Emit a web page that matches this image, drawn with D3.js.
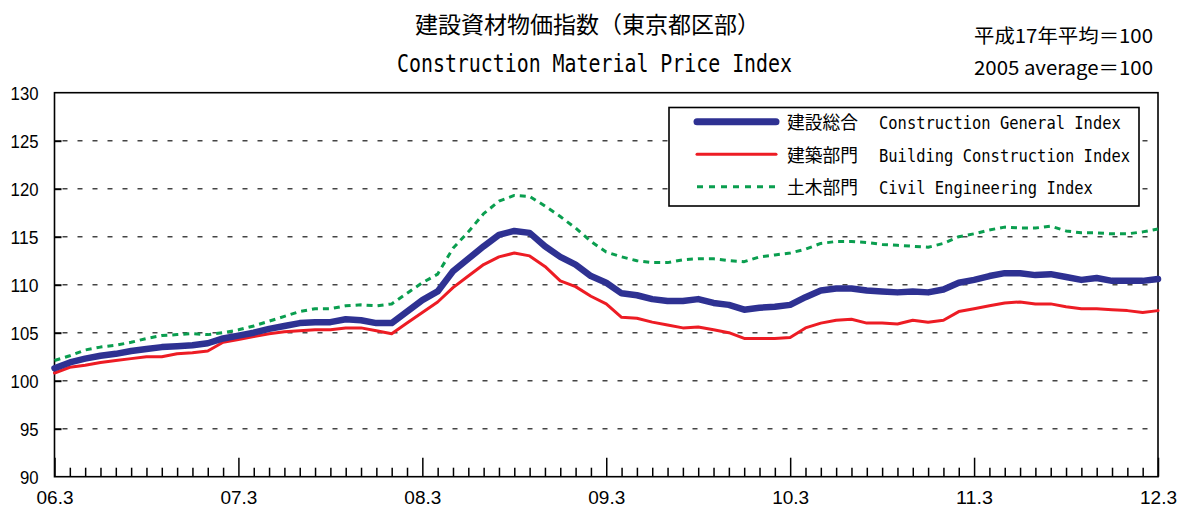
<!DOCTYPE html>
<html>
<head>
<meta charset="utf-8">
<script src="https://cdn.jsdelivr.net/npm/d3@7"></script>
<style>
  html, body { margin: 0; padding: 0; background: #fff; }
  svg { display: block; }
</style>
</head>
<body>
<svg id="chart" width="1179" height="510"></svg>
<script>
// ---- Data (Mar 2006 – Mar 2012, monthly) ----
const startMonth = "2006-03";
const monthCount = 73;
const xTickLabels = ["06.3", "07.3", "08.3", "09.3", "10.3", "11.3", "12.3"];
const yTicks = [90, 95, 100, 105, 110, 115, 120, 125, 130];

const generalIndex = [
  101.3, 101.9, 102.3, 102.6, 102.8, 103.1, 103.3, 103.5, 103.6, 103.7, 103.9, 104.4,
  104.7, 105.0, 105.4, 105.7, 106.0, 106.1, 106.1, 106.4, 106.3, 106.0, 106.0, 107.2,
  108.4, 109.3, 111.4, 112.7, 114.0, 115.2, 115.6, 115.4, 114.0, 112.9, 112.1, 110.9,
  110.2, 109.1, 108.9, 108.5, 108.3, 108.3, 108.5, 108.1, 107.9, 107.4, 107.6, 107.7,
  107.9, 108.7, 109.4, 109.6, 109.6, 109.4, 109.3, 109.2, 109.3, 109.2, 109.5, 110.2,
  110.5, 110.9, 111.2, 111.2, 111.0, 111.1, 110.8, 110.5, 110.7, 110.4, 110.4, 110.4,
  110.6
];
const buildingIndex = [
  100.8, 101.4, 101.6, 101.9, 102.1, 102.3, 102.5, 102.5, 102.8, 102.9, 103.1, 104.0,
  104.3, 104.6, 104.9, 105.1, 105.2, 105.3, 105.3, 105.5, 105.5, 105.2, 104.9, 106.0,
  107.1, 108.2, 109.7, 110.9, 112.1, 112.9, 113.3, 113.0, 111.9, 110.4, 109.8, 108.8,
  108.0, 106.6, 106.5, 106.1, 105.8, 105.5, 105.6, 105.3, 105.0, 104.4, 104.4, 104.4,
  104.5, 105.5, 106.0, 106.3, 106.4, 106.0, 106.0, 105.9, 106.3, 106.1, 106.3, 107.2,
  107.5, 107.8, 108.1, 108.2, 108.0, 108.0, 107.7, 107.5, 107.5, 107.4, 107.3, 107.1,
  107.3
];
const civilIndex = [
  102.1, 102.6, 103.2, 103.5, 103.7, 104.0, 104.4, 104.7, 104.8, 104.9, 104.8, 105.0,
  105.3, 105.7, 106.2, 106.7, 107.2, 107.5, 107.5, 107.8, 107.9, 107.8, 108.0, 109.1,
  110.2, 111.1, 113.8, 115.5, 117.4, 118.7, 119.3, 119.2, 118.2, 117.1, 115.9, 114.5,
  113.4, 112.9, 112.5, 112.3, 112.3, 112.6, 112.7, 112.7, 112.5, 112.4, 112.9, 113.1,
  113.3, 113.7, 114.3, 114.5, 114.5, 114.4, 114.2, 114.1, 114.0, 113.9, 114.3, 115.0,
  115.3, 115.7, 116.0, 115.9, 115.9, 116.1, 115.6, 115.4, 115.4, 115.3, 115.3, 115.5,
  115.8
];

const seriesNames = ["建設総合", "建築部門", "土木部門"];
const seriesNamesEn = ["Construction General Index", "Building Construction Index", "Civil Engineering Index"];

const titleJa = "建設資材物価指数（東京都区部）";
const titleEn = "Construction Material Price Index";
const noteJa = "平成17年平均＝100";
const noteEn = "2005 average＝100";

// ---- Setup ----
const W = 1179, H = 510;
const plot = { left: 54.5, right: 1158, top: 92.7, bottom: 476.7 };
const svg = d3.select("#chart");

const parse = d3.timeParse("%Y-%m");
const months = d3.range(monthCount).map(i => d3.timeMonth.offset(parse(startMonth), i));

const x = d3.scaleLinear().domain([0, monthCount - 1]).range([plot.left, plot.right]);
const y = d3.scaleLinear().domain([90, 130]).range([plot.bottom, plot.top]);

const monoFont = "'DejaVu Sans Mono', 'Liberation Mono', monospace";
const cjkFont = "'Noto Sans CJK JP', 'Noto Sans', sans-serif";
const numFont = "'Liberation Sans', Arial, sans-serif";

// gridlines (dashed)
svg.append("g").selectAll("line")
  .data(yTicks.filter(v => v > 90 && v < 130))
  .join("line")
  .attr("x1", plot.left + 8).attr("x2", plot.right - 2)
  .attr("y1", d => y(d)).attr("y2", d => y(d))
  .attr("stroke", "#444").attr("stroke-width", 1.4)
  .attr("stroke-dasharray", "5,10");

// left axis
const yAxis = d3.axisLeft(y).tickValues(yTicks).tickSize(-7).tickPadding(16);
const gy = svg.append("g").attr("transform", `translate(${plot.left},0)`).call(yAxis);
gy.select(".domain").remove();
gy.selectAll(".tick line").attr("stroke", "#000").attr("stroke-width", 2)
  .filter(d => d === 90 || d === 130).remove();
gy.selectAll(".tick text")
  .attr("font-family", numFont).attr("font-size", 19).attr("fill", "#000")
  .attr("dy", "0.36em")
  .attr("textLength", d => String(d).length * 9.3)
  .attr("lengthAdjust", "spacingAndGlyphs");

// bottom axis with monthly ticks
const xAxis = d3.axisBottom(x).tickValues(d3.range(monthCount)).tickSize(-9).tickPadding(0)
  .tickFormat(i => (i % 12 === 0 ? xTickLabels[i / 12] : ""));
const gx = svg.append("g").attr("transform", `translate(0,${plot.bottom})`).call(xAxis);
gx.select(".domain").remove();
gx.selectAll(".tick line").attr("stroke", "#000").attr("stroke-width", 1.5)
  .attr("y2", i => (i % 12 === 0 ? -19 : -9));
gx.selectAll(".tick text")
  .attr("font-family", numFont).attr("font-size", 18).attr("fill", "#000")
  .attr("y", 27).attr("dy", 0)
  .attr("textLength", 37).attr("lengthAdjust", "spacingAndGlyphs")
  .filter(i => i % 12 !== 0).remove();

// frame
svg.append("rect")
  .attr("x", plot.left).attr("y", plot.top)
  .attr("width", plot.right - plot.left).attr("height", plot.bottom - plot.top)
  .attr("fill", "none").attr("stroke", "#000").attr("stroke-width", 1.6);

// lines
const line = d3.line().x((d, i) => x(i)).y(d => y(d));
const series = [
  { values: civilIndex, color: "#0a9e4f", width: 3, dash: "6,5", cap: "butt" },
  { values: buildingIndex, color: "#ed1c24", width: 3, dash: null, cap: "round" },
  { values: generalIndex, color: "#2e3192", width: 6.5, dash: null, cap: "round" }
];
svg.append("g").selectAll("path")
  .data(series)
  .join("path")
  .attr("d", d => line(d.values))
  .attr("fill", "none")
  .attr("stroke", d => d.color)
  .attr("stroke-width", d => d.width)
  .attr("stroke-linejoin", "round")
  .attr("stroke-linecap", d => d.cap)
  .attr("stroke-dasharray", d => d.dash);

// legend
const legendItems = [
  { ja: seriesNames[0], en: seriesNamesEn[0], color: "#2e3192", width: 7, dash: null, cap: "round" },
  { ja: seriesNames[1], en: seriesNamesEn[1], color: "#ed1c24", width: 3, dash: null, cap: "round" },
  { ja: seriesNames[2], en: seriesNamesEn[2], color: "#0a9e4f", width: 3, dash: "6,6", cap: "butt" }
];
const lg = svg.append("g");
lg.append("rect").attr("x", 669).attr("y", 107.5).attr("width", 470).attr("height", 98.5)
  .attr("fill", "#fff").attr("stroke", "#000").attr("stroke-width", 1.6);
const rows = lg.selectAll("g.row").data(legendItems).join("g")
  .attr("transform", (d, i) => `translate(0,${121.7 + i * 32.5})`);
rows.append("line").attr("x1", 697).attr("x2", 776).attr("y1", 0).attr("y2", 0)
  .attr("stroke", d => d.color).attr("stroke-width", d => d.width)
  .attr("stroke-linecap", d => d.cap).attr("stroke-dasharray", d => d.dash);
rows.append("text").attr("x", 787).attr("y", 7.5)
  .attr("font-family", cjkFont).attr("font-size", 18).attr("fill", "#000")
  .attr("textLength", 71).attr("lengthAdjust", "spacingAndGlyphs")
  .text(d => d.ja);
rows.append("text").attr("x", 879).attr("y", 7.5)
  .attr("font-family", monoFont).attr("font-size", 18).attr("fill", "#000")
  .attr("textLength", d => d.en.length * 9.3).attr("lengthAdjust", "spacingAndGlyphs")
  .text(d => d.en);

// titles
svg.append("text").attr("x", 415).attr("y", 33)
  .attr("font-family", cjkFont).attr("font-size", 23).attr("fill", "#000")
  .attr("textLength", 345).attr("lengthAdjust", "spacingAndGlyphs")
  .text(titleJa);
svg.append("text").attr("x", 397).attr("y", 72)
  .attr("font-family", monoFont).attr("font-size", 24).attr("fill", "#000")
  .attr("textLength", 395).attr("lengthAdjust", "spacingAndGlyphs")
  .text(titleEn);
svg.append("text").attr("x", 974).attr("y", 43)
  .attr("font-family", cjkFont).attr("font-size", 19).attr("fill", "#000")
  .attr("textLength", 179).attr("lengthAdjust", "spacingAndGlyphs")
  .text(noteJa);
svg.append("text").attr("x", 974).attr("y", 75)
  .attr("font-family", cjkFont).attr("font-size", 19).attr("fill", "#000")
  .attr("textLength", 179).attr("lengthAdjust", "spacingAndGlyphs")
  .text(noteEn);
</script>
</body>
</html>
